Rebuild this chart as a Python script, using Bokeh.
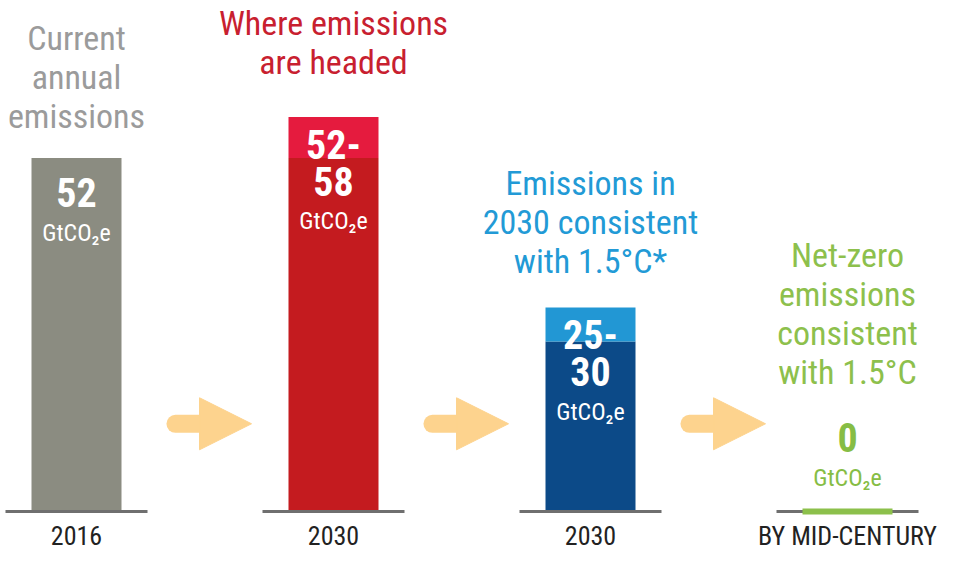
from bokeh.plotting import figure
from bokeh.models import Range1d, ColumnDataSource, Arrow, NormalHead
from bokeh.core.properties import value
from bokeh.embed import file_html
from bokeh.resources import INLINE

# ---------------- data ----------------
periods = ["2016", "2030", "2030", "BY MID-CENTURY"]
titles = [
    "Current\nannual\nemissions",
    "Where emissions\nare headed",
    "Emissions in\n2030 consistent\nwith 1.5°C*",
    "Net-zero\nemissions\nconsistent\nwith 1.5°C",
]
low = [52, 52, 25, 0]
high = [52, 58, 30, 0]
value_labels = ["52", "52-\n58", "25-\n30", "0"]
unit_label = "GtCO₂e"

# ---------------- styles / layout ----------------
base_colors = ["#8b8c81", "#c41b1f", "#0c4a88", "#8cc04b"]
top_colors = ["#8b8c81", "#e51b3e", "#2297d4", "#8cc04b"]
title_colors = ["#9b9b9b", "#c8202f", "#229ad6", "#8dc04c"]
label_colors = ["white", "white", "white", "#86bd45"]
arrow_color = "#fdd38e"
FONT = value("Liberation Sans Narrow, Roboto Condensed, DejaVu Sans Condensed, sans-serif")

TITLE_SIZE, VALUE_SIZE, UNIT_SIZE, PERIOD_SIZE = 34, 40, 24, 26
BASE_CORR = 0.37                     # renderer places alphabetic baseline ~0.37em low

title_gap = [29, 42, 34, 127]        # px between bar top and last title baseline
value_first = [50, 42, 42, -59]      # px from bar top to first value baseline
TITLE_LH = 38.7
VALUE_LH = 37
UNIT_GAP = 34
PERIOD_GAP = 34                      # px from baseline line to period label baseline
ARROW_Y = 12.9

W, H = 942, 552
UNIT_PX = 257.0
PX_PER_VAL = 6.8
X0_PX = 76.0
BASE_PX = 511.0
BAR_W = 90 / UNIT_PX
BASE_W = 142 / UNIT_PX

def corr(size):
    return round(BASE_CORR * size)

p = figure(
    width=W, height=H,
    x_range=Range1d(-X0_PX / UNIT_PX, (W - X0_PX) / UNIT_PX),
    y_range=Range1d(-(H - BASE_PX) / PX_PER_VAL, BASE_PX / PX_PER_VAL),
    output_backend="svg", toolbar_location=None, min_border=0,
)
p.axis.visible = False
p.xgrid.visible = False
p.ygrid.visible = False
p.outline_line_color = None
p.background_fill_color = "white"
p.border_fill_color = "white"

xs = list(range(len(periods)))

# bars: lower (solid) part and upper (range) part
p.vbar(x=xs, bottom=0, top=low, width=BAR_W, fill_color=base_colors, line_color=None)
p.vbar(x=xs, bottom=low, top=high, width=BAR_W, fill_color=top_colors, line_color=None)

# baselines
p.segment(x0=[x - BASE_W / 2 for x in xs], x1=[x + BASE_W / 2 for x in xs],
          y0=[0] * len(xs), y1=[0] * len(xs), line_width=3, line_color="#6f6f6f")

# zero-value bar shown as a thin strip
zx = [x for x, h in zip(xs, high) if h == 0]
zc = [c for c, h in zip(base_colors, high) if h == 0]
p.rect(x=zx, y=[0] * len(zx), width=BAR_W, height=6, height_units="screen",
       fill_color=zc, line_color=None)

# arrows between bars (rounded shaft + triangular head)
ax0 = [x + 0.385 for x in xs[:-1]]
ax1 = [x + 0.681 for x in xs[:-1]]
p.segment(x0=ax0, x1=[a - 0.12 for a in ax1], y0=[ARROW_Y] * len(ax0), y1=[ARROW_Y] * len(ax0),
          line_color=arrow_color, line_width=18, line_cap="round")
for a0, a1 in zip(ax0, ax1):
    p.add_layout(Arrow(
        end=NormalHead(size=52, fill_color=arrow_color, line_color=arrow_color, line_width=1),
        x_start=a0, y_start=ARROW_Y, x_end=a1, y_end=ARROW_Y,
        line_alpha=0, line_width=1))

# titles
tx, ty, tt, toff, tcol = [], [], [], [], []
for i, t in enumerate(titles):
    lines = t.split("\n")
    n = len(lines)
    for j, line in enumerate(lines):
        tx.append(xs[i]); ty.append(high[i]); tt.append(line)
        toff.append(-(title_gap[i] + (n - 1 - j) * TITLE_LH) - corr(TITLE_SIZE))
        tcol.append(title_colors[i])
p.text(x="x", y="y", text="text", y_offset="off", text_color="c",
       source=ColumnDataSource(dict(x=tx, y=ty, text=tt, off=toff, c=tcol)),
       text_font=FONT, text_font_size=f"{TITLE_SIZE}px", text_align="center",
       text_baseline="alphabetic")

# value labels and units
vx, vy, vt, voff, vcol = [], [], [], [], []
ux, uy, uoff, ucol = [], [], [], []
for i, v in enumerate(value_labels):
    lines = v.split("\n")
    for j, line in enumerate(lines):
        vx.append(xs[i]); vy.append(high[i]); vt.append(line)
        voff.append(value_first[i] + j * VALUE_LH - corr(VALUE_SIZE))
        vcol.append(label_colors[i])
    ux.append(xs[i]); uy.append(high[i])
    uoff.append(value_first[i] + (len(lines) - 1) * VALUE_LH + UNIT_GAP - corr(UNIT_SIZE))
    ucol.append(label_colors[i])
p.text(x="x", y="y", text="text", y_offset="off", text_color="c",
       source=ColumnDataSource(dict(x=vx, y=vy, text=vt, off=voff, c=vcol)),
       text_font=FONT, text_font_size=f"{VALUE_SIZE}px", text_font_style="bold",
       text_align="center", text_baseline="alphabetic")
p.text(x="x", y="y", text="text", y_offset="off", text_color="c",
       source=ColumnDataSource(dict(x=ux, y=uy, text=[unit_label] * len(ux), off=uoff, c=ucol)),
       text_font=FONT, text_font_size=f"{UNIT_SIZE}px",
       text_align="center", text_baseline="alphabetic")

# period labels under baselines
p.text(x=xs, y=[0] * len(xs), text=periods, y_offset=PERIOD_GAP - corr(PERIOD_SIZE),
       text_font=FONT, text_font_size=f"{PERIOD_SIZE}px", text_color="#222222",
       text_align="center", text_baseline="alphabetic")

open("out.html", "w").write(file_html(p, INLINE))
